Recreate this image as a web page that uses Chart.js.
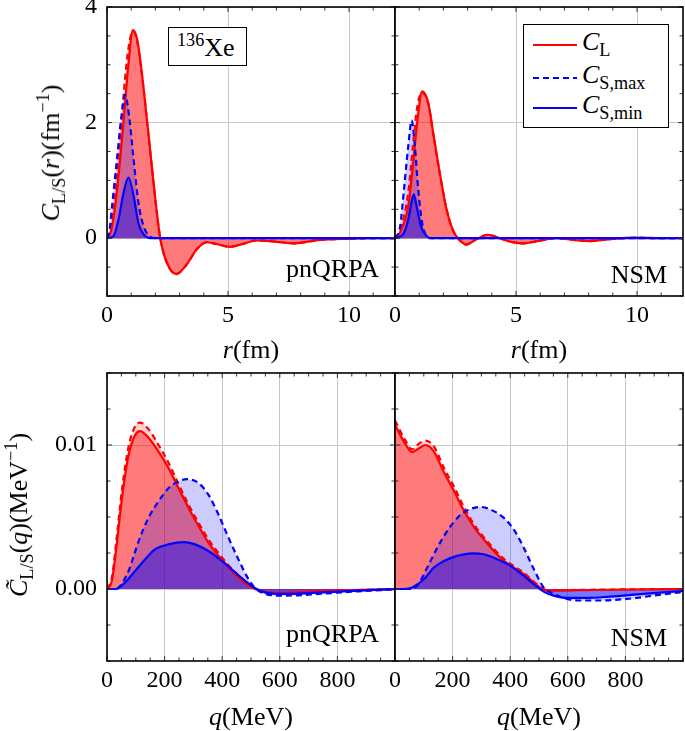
<!DOCTYPE html>
<html>
<head>
<meta charset="utf-8">
<script src="https://cdn.jsdelivr.net/npm/chart.js@4.4.1/dist/chart.umd.min.js"></script>
<style>
  body { margin: 0; background: #fff; }
  #wrap { position: relative; width: 685px; height: 731px; overflow: hidden; font-family: "Liberation Serif", serif; color: #000; }
  #wrap canvas { position: absolute; left: 0; top: 0; }
  .lbl { position: absolute; font-size: 26px; line-height: 26px; white-space: nowrap; }
  .ctr { transform: translate(-50%, -50%); }
  .rot { transform: translate(-50%, -50%) rotate(-90deg); }
  .lbl sub, .lbl sup { font-size: 70%; line-height: 0; }
  .box { position: absolute; background: #fff; border: 1.4px solid #000; box-sizing: border-box; }
  .row { position: absolute; left: 0; height: 26px; }
  .row svg { position: absolute; left: 9px; top: 12px; }
  .row span { position: absolute; left: 58px; top: -2px; font-size: 26px; line-height: 26px; white-space: nowrap; }
  .row sub { font-size: 70%; line-height: 0; }
</style>
</head>
<body>
<div id="wrap">
  <canvas id="c1" width="685" height="731"></canvas>
  <canvas id="c2" width="685" height="731"></canvas>
  <canvas id="c3" width="685" height="731"></canvas>
  <canvas id="c4" width="685" height="731"></canvas>

  <div class="lbl rot" style="left:51px; top:153px"><i>C</i><sub>L/S</sub>(<i>r</i>)(fm<sup>−1</sup>)</div>
  <div class="lbl rot" style="left:19px; top:515px"><i>C̃</i><sub>L/S</sub>(<i>q</i>)(MeV<sup>−1</sup>)</div>
  <div class="lbl ctr" style="left:251px; top:350px"><i>r</i>(fm)</div>
  <div class="lbl ctr" style="left:539px; top:350px"><i>r</i>(fm)</div>
  <div class="lbl ctr" style="left:251px; top:717px"><i>q</i>(MeV)</div>
  <div class="lbl ctr" style="left:539px; top:717px"><i>q</i>(MeV)</div>

  <div class="lbl" style="right:306px; top:256px">pnQRPA</div>
  <div class="lbl" style="right:18px; top:262px">NSM</div>
  <div class="lbl" style="right:306px; top:621px">pnQRPA</div>
  <div class="lbl" style="right:18px; top:625px">NSM</div>

  <div class="box" style="left:168px; top:27px; width:79px; height:39px;">
    <div class="lbl" style="left:8px; top:7px"><sup>136</sup>Xe</div>
  </div>

  <div class="box" style="left:523px; top:24px; width:146px; height:104px;">
    <div class="row" style="top:6px"><svg width="44" height="4"><line x1="0" y1="2" x2="44" y2="2" stroke="#ff0000" stroke-width="2"/></svg><span><i>C</i><sub>L</sub></span></div>
    <div class="row" style="top:39px"><svg width="44" height="4"><line x1="0" y1="2" x2="44" y2="2" stroke="#0000ff" stroke-width="2" stroke-dasharray="6 4"/></svg><span><i>C</i><sub>S,max</sub></span></div>
    <div class="row" style="top:69px"><svg width="44" height="4"><line x1="0" y1="2" x2="44" y2="2" stroke="#0000ff" stroke-width="2"/></svg><span><i>C</i><sub>S,min</sub></span></div>
  </div>
</div>
<script>
// ---- r-space, pnQRPA (fm^-1)
const rL_pn    = [0, 0.15, 0.34, 0.55, 0.69, 0.89, 1.07, 1.24, 1.44, 1.65, 1.85, 2.06, 2.2, 2.47, 2.86, 3.3, 3.71, 4.12, 4.53, 5.08, 5.6, 6.18, 6.7, 7.2, 7.7, 8.3, 8.8, 10, 11, 11.9];
const cL_pn    = [0, 0.1, 0.56, 1.4, 2.05, 3.03, 3.6, 3.45, 2.86, 2.05, 1.25, 0.44, 0, -0.42, -0.62, -0.45, -0.19, -0.07, -0.1, -0.15, -0.1, -0.04, -0.05, -0.07, -0.09, -0.06, -0.03, -0.01, 0, 0];
const cLd_pn   = [0, 0.14, 0.75, 1.75, 2.5, 3.3, 3.58, 3.42, 2.84, 2.04, 1.24, 0.44, 0, -0.42, -0.62, -0.45, -0.19, -0.07, -0.1, -0.15, -0.1, -0.04, -0.05, -0.07, -0.09, -0.06, -0.03, -0.01, 0, 0];
const rSmax_pn = [0, 0.1, 0.21, 0.41, 0.58, 0.75, 0.93, 1.1, 1.3, 1.51, 1.75, 2.0, 11.9];
const cSmax_pn = [0, 0.12, 0.56, 1.36, 2.05, 2.48, 2.05, 1.36, 0.61, 0.21, 0.04, 0, 0];
const rSmin_pn = [0, 0.27, 0.48, 0.69, 0.89, 1.1, 1.3, 1.51, 1.8, 11.9];
const cSmin_pn = [0, 0.04, 0.33, 0.8, 1.05, 0.73, 0.26, 0.07, 0, 0];

// ---- r-space, NSM
const rL_nsm    = [0, 0.21, 0.55, 0.75, 0.93, 1.12, 1.37, 1.58, 1.85, 2.13, 2.4, 2.6, 2.95, 3.36, 3.84, 4.32, 4.87, 5.3, 5.9, 6.6, 7.6, 8.0, 9, 10, 11, 11.9];
const cL_nsm    = [0, 0.1, 0.56, 1.3, 2.05, 2.54, 2.35, 1.82, 1.13, 0.5, 0.13, 0, -0.11, -0.02, 0.06, 0, -0.07, -0.09, -0.05, 0, -0.04, -0.05, -0.01, 0.01, 0, 0];
const cLd_nsm   = [0, 0.14, 0.8, 1.65, 2.3, 2.52, 2.33, 1.8, 1.12, 0.5, 0.13, 0, -0.11, -0.02, 0.06, 0, -0.07, -0.09, -0.05, 0, -0.04, -0.05, -0.01, 0.01, 0, 0];
const rSmax_nsm = [0, 0.1, 0.21, 0.37, 0.55, 0.69, 0.82, 0.96, 1.12, 1.3, 1.5, 11.9];
const cSmax_nsm = [0, 0.05, 0.2, 0.84, 1.6, 2.04, 1.6, 0.84, 0.27, 0.04, 0, 0];
const rSmin_nsm = [0, 0.34, 0.55, 0.69, 0.78, 0.89, 1.07, 1.3, 1.5, 11.9];
const cSmin_nsm = [0, 0.07, 0.33, 0.64, 0.76, 0.56, 0.21, 0.04, 0, 0];

// ---- q-space, pnQRPA (MeV^-1)
const qL_pn    = [0, 17, 35, 52, 75, 98, 115, 144, 179, 214, 248, 283, 318, 352, 387, 422, 456, 491, 514, 549, 595, 650, 731, 846, 962, 1000];
const tL_pn    = [0, 0.00057, 0.00333, 0.0063, 0.0093, 0.0107, 0.01097, 0.0105, 0.00954, 0.00839, 0.00701, 0.00563, 0.00437, 0.00322, 0.0023, 0.00149, 0.0008, 0.00023, 0, -0.00023, -0.0003, -0.00025, -0.00016, -0.00009, -0.00002, 0];
const tLd_pn   = [0, 0.0008, 0.0038, 0.0069, 0.0099, 0.0113, 0.01156, 0.0111, 0.01, 0.00875, 0.0073, 0.00586, 0.0046, 0.00345, 0.0025, 0.00165, 0.00095, 0.00035, 0.00005, -0.0002, -0.00028, -0.00024, -0.00016, -0.00009, -0.00002, 0];
const qSmax_pn = [0, 30, 46, 75, 110, 144, 179, 214, 248, 278, 318, 352, 387, 422, 456, 491, 514, 549, 606, 687, 780, 872, 977, 1000];
const tSmax_pn = [0, 0, 0.00023, 0.00126, 0.00333, 0.00494, 0.00609, 0.00701, 0.00747, 0.00763, 0.00736, 0.00655, 0.00517, 0.00356, 0.00207, 0.00069, 0.00007, -0.00034, -0.00046, -0.00041, -0.00028, -0.00016, -0.00005, 0];
const qSmin_pn = [0, 30, 63, 98, 133, 167, 214, 266, 306, 352, 399, 445, 479, 514, 549, 606, 687, 800, 950, 1000];
const tSmin_pn = [0, 0, 0.00046, 0.00126, 0.00207, 0.00276, 0.0031, 0.00326, 0.0031, 0.00264, 0.00195, 0.00115, 0.00057, 0.00005, -0.00023, -0.00034, -0.0003, -0.00018, -0.00005, 0];

// ---- q-space, NSM
const qL_nsm    = [0, 31, 60, 83, 106, 135, 170, 205, 239, 274, 308, 343, 378, 412, 447, 482, 516, 551, 689, 850, 1000];
const tL_nsm    = [0.0114, 0.01023, 0.0095, 0.00977, 0.01, 0.00954, 0.0081, 0.0068, 0.00545, 0.0043, 0.00345, 0.00264, 0.00195, 0.00149, 0.00103, 0.00046, -0.00005, -0.00011, -0.00007, -0.00002, 0];
const tLd_nsm   = [0.0117, 0.0105, 0.0097, 0.0101, 0.0103, 0.0099, 0.0084, 0.0071, 0.0057, 0.0045, 0.0036, 0.0028, 0.0021, 0.0016, 0.00112, 0.00052, 0, -0.00008, -0.00005, -0.00002, 0];
const qSmax_nsm = [0, 54, 77, 112, 147, 181, 228, 262, 297, 332, 378, 412, 447, 482, 516, 551, 597, 644, 713, 806, 898, 1000];
const tSmax_nsm = [0, 0, 0.00023, 0.00149, 0.00287, 0.00402, 0.00517, 0.00556, 0.0057, 0.00552, 0.00494, 0.00414, 0.00287, 0.00138, 0.00011, -0.00034, -0.00069, -0.0008, -0.0008, -0.00069, -0.00046, -0.0002];
const qSmin_nsm = [0, 30, 60, 101, 135, 170, 216, 268, 308, 355, 401, 447, 482, 516, 551, 597, 666, 747, 862, 1000];
const tSmin_nsm = [0, 0, 0.00011, 0.00069, 0.00149, 0.00195, 0.0023, 0.00248, 0.00241, 0.00207, 0.00161, 0.00092, 0.00034, -0.00018, -0.00046, -0.00062, -0.00062, -0.00053, -0.00034, -0.00014];

// ticks
const rTicks = [0, 5, 10];
const qTicks = [0, 200, 400, 600, 800];
const cTicks = [0, 2, 4];
const tTicks = [0, 0.01];

const FONT = "'Liberation Serif', serif";
const W = 685, H = 731;
const YW = 100, XH = 40;   // room kept for tick labels

function series(xs, ys, color, dashed, fillColor) {
  return {
    data: xs.map((x, i) => ({ x: x, y: ys[i] })),
    borderColor: color, borderWidth: 2.2, borderDash: dashed ? [6, 4] : [],
    backgroundColor: fillColor, fill: 'origin',
    pointRadius: 0, cubicInterpolationMode: 'monotone'
  };
}

function steps(a, b, s) {
  const out = [];
  for (let v = a; v <= b + s * 1e-6; v += s) out.push(+v.toFixed(6));
  return out;
}

// frame + inside tick marks, pgfplots style
const frame = {
  id: 'frame',
  afterDraw(chart, args, o) {
    const { ctx, chartArea: a, scales: { x, y } } = chart;
    ctx.save();
    ctx.strokeStyle = '#333';
    ctx.lineWidth = 1;
    const seg = (x1, y1, x2, y2) => { ctx.beginPath(); ctx.moveTo(x1, y1); ctx.lineTo(x2, y2); ctx.stroke(); };
    steps(x.min, x.max, o.xMinor).forEach(v => {
      const p = x.getPixelForValue(v), len = o.xMajor.includes(v) ? 5 : 3.5;
      seg(p, a.bottom, p, a.bottom - len); seg(p, a.top, p, a.top + len);
    });
    steps(y.min, y.max, o.yMinor).forEach(v => {
      const p = y.getPixelForValue(v), len = o.yMajor.includes(v) ? 5 : 3.5;
      seg(a.left, p, a.left + len, p); seg(a.right, p, a.right - len, p);
    });
    ctx.strokeStyle = '#000';
    ctx.lineWidth = 1.6;
    ctx.strokeRect(a.left, a.top, a.right - a.left, a.bottom - a.top);
    ctx.restore();
  }
};

function panel(id, area, xMax, xMajor, xMinor, yMin, yMax, yMajor, yMinor, showY, yFmt, sets) {
  const yw = showY ? YW : 0;
  new Chart(document.getElementById(id), {
    type: 'line',
    data: {
      datasets: [
        series(sets[6], sets[7], '#0000ff', false, 'rgba(0,0,255,0.42)'),
        series(sets[4], sets[5], '#0000ff', true, 'rgba(0,0,255,0.2)'),
        series(sets[0], sets[2], '#ff0000', true, 'rgba(255,0,0,0.18)'),
        series(sets[0], sets[1], '#ff0000', false, 'rgba(255,0,0,0.42)')
      ]
    },
    options: {
      responsive: false, animation: false, devicePixelRatio: 1,
      layout: { padding: { left: area[0] - yw, top: area[1], right: W - area[2], bottom: H - area[3] - XH } },
      plugins: {
        legend: { display: false }, tooltip: { enabled: false },
        filler: { drawTime: 'beforeDatasetsDraw' },
        frame: { xMajor: xMajor, xMinor: xMinor, yMajor: yMajor, yMinor: yMinor }
      },
      scales: {
        x: {
          type: 'linear', min: 0, max: xMax,
          afterBuildTicks: s => { s.ticks = xMajor.map(v => ({ value: v })); },
          afterFit: s => { s.height = XH; s.paddingLeft = s.paddingRight = s.paddingTop = s.paddingBottom = 0; },
          grid: { color: '#c8c8c8', lineWidth: 1, drawTicks: false },
          border: { display: false },
          ticks: { color: '#000', font: { family: FONT, size: 24 }, padding: 5, maxRotation: 0, autoSkip: false, callback: v => String(v) }
        },
        y: {
          type: 'linear', min: yMin, max: yMax,
          afterBuildTicks: s => { s.ticks = yMajor.map(v => ({ value: v })); },
          afterFit: s => { s.width = yw; s.paddingLeft = s.paddingRight = s.paddingTop = s.paddingBottom = 0; },
          grid: { color: '#c8c8c8', lineWidth: 1, drawTicks: false },
          border: { display: false },
          ticks: { display: showY, color: '#000', font: { family: FONT, size: 24 }, padding: 10, autoSkip: false, callback: yFmt }
        }
      }
    },
    plugins: [frame]
  });
}

const rFmt = v => String(v);
const qFmt = v => v.toFixed(2);

panel('c1', [107, 7, 395, 296], 11.9, rTicks, 1, -1, 4, cTicks, 0.5, true, rFmt,
  [rL_pn, cL_pn, cLd_pn, 0, rSmax_pn, cSmax_pn, rSmin_pn, cSmin_pn]);
panel('c2', [395, 7, 683, 296], 11.9, rTicks, 1, -1, 4, cTicks, 0.5, false, rFmt,
  [rL_nsm, cL_nsm, cLd_nsm, 0, rSmax_nsm, cSmax_nsm, rSmin_nsm, cSmin_nsm]);
panel('c3', [107, 373, 395, 661], 1000, qTicks, 50, -0.005, 0.015, tTicks, 0.0025, true, qFmt,
  [qL_pn, tL_pn, tLd_pn, 0, qSmax_pn, tSmax_pn, qSmin_pn, tSmin_pn]);
panel('c4', [395, 373, 683, 661], 1000, qTicks, 50, -0.005, 0.015, tTicks, 0.0025, false, qFmt,
  [qL_nsm, tL_nsm, tLd_nsm, 0, qSmax_nsm, tSmax_nsm, qSmin_nsm, tSmin_nsm]);
</script>
</body>
</html>
